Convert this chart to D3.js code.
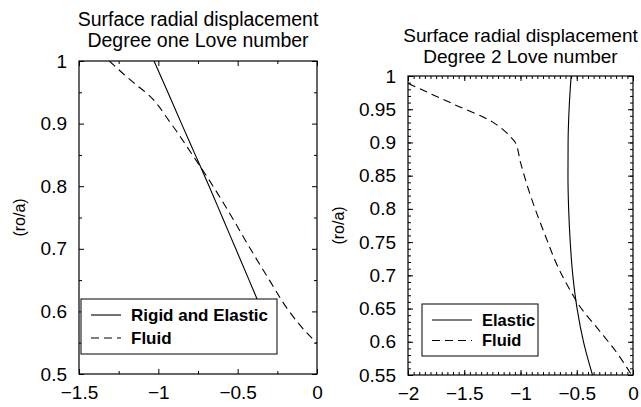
<!DOCTYPE html>
<html><head><meta charset="utf-8">
<script src="https://cdn.jsdelivr.net/npm/d3@7"></script>
<style>body{margin:0;background:#fff}svg{display:block}text{font-family:"Liberation Sans",Arial,Helvetica,sans-serif}</style>
</head><body>
<svg id="c" width="641" height="407"></svg>
<script>
// ---- data ----
const leftTitle = ["Surface radial displacement", "Degree one Love number"];
const rightTitle = ["Surface radial displacement", "Degree 2 Love number"];
const yLabel = "(ro/a)";

const leftXTicks = [-1.5, -1, -0.5, 0];
const leftXMinor = [-1.25, -0.75, -0.25];
const leftYTicks = [0.5, 0.6, 0.7, 0.8, 0.9, 1];
const leftYMinor = [0.55, 0.65, 0.75, 0.85, 0.95];
const rightXTicks = [-2, -1.5, -1, -0.5, 0];
const rightYTicks = [0.55, 0.6, 0.65, 0.7, 0.75, 0.8, 0.85, 0.9, 0.95, 1];

// left panel: Rigid and Elastic (solid)
const leftSolidX = [-1.027, -0.94, -0.854, -0.767, -0.68, -0.596, -0.512, -0.428, -0.345];
const leftSolidY = [1.0, 0.95, 0.9, 0.85, 0.8, 0.75, 0.7, 0.65, 0.6];
// left panel: Fluid (dashed)
const leftDashX = [-1.309, -1.2, -1.13, -1.08, -0.92, -0.785, -0.655, -0.535, -0.42, -0.3, -0.175, -0.08, 0.0];
const leftDashY = [1.0, 0.975, 0.96, 0.95, 0.9, 0.85, 0.8, 0.75, 0.7, 0.65, 0.6, 0.57, 0.549];
// right panel: Elastic (solid)
const rightSolidX = [-0.55, -0.568, -0.577, -0.578, -0.572, -0.558, -0.535, -0.497, -0.44, -0.36];
const rightSolidY = [1.0, 0.95, 0.9, 0.85, 0.8, 0.75, 0.7, 0.65, 0.6, 0.55];
// right panel: Fluid (dashed)
const rightDashX = [-2.0, -1.6, -1.25, -1.14, -1.08, -1.05, -1.0, -0.94, -0.87, -0.78, -0.66, -0.56, -0.48, -0.3, -0.15, -0.02];
const rightDashY = [0.989, 0.958, 0.931, 0.917, 0.907, 0.901, 0.87, 0.835, 0.8, 0.76, 0.71, 0.678, 0.655, 0.617, 0.585, 0.552];

const leftLegend = ["Rigid and Elastic", "Fluid"];
const rightLegend = ["Elastic", "Fluid"];

// ---- drawing ----
const svg = d3.select("#c");
svg.append("rect").attr("width", 641).attr("height", 407).attr("fill", "#fff");

function zip(xs, ys) { return xs.map((v, i) => [v, ys[i]]); }

function panel(o) {
  const x = d3.scaleLinear().domain(o.xd).range([o.x0, o.x1]);
  const y = d3.scaleLinear().domain(o.yd).range([o.y1, o.y0]);
  const g = svg.append("g");
  const id = "clip" + o.key;
  svg.append("clipPath").attr("id", id).append("rect")
    .attr("x", o.x0).attr("y", o.y0).attr("width", o.x1 - o.x0).attr("height", o.y1 - o.y0);

  const fs = o.tickFont;
  const ax = (gen, tr, ticks, size, labels) => {
    const a = g.append("g").attr("transform", tr)
      .call(gen.tickValues(ticks).tickSizeInner(size).tickSizeOuter(0).tickPadding(o.pad)
        .tickFormat(labels ? d3.format("") : ""));
    a.select(".domain").remove();
    a.selectAll("line").attr("stroke", "#000").attr("stroke-width", 1);
    a.selectAll("text").attr("font-size", fs).attr("fill", "#000").attr("font-family", '"Liberation Sans",Arial,sans-serif');
    return a;
  };
  ax(d3.axisBottom(x), `translate(0,${o.y1})`, o.xt, -5, true);
  ax(d3.axisTop(x), `translate(0,${o.y0})`, o.xt, -5, false);
  ax(d3.axisLeft(y), `translate(${o.x0},0)`, o.yt, -5, true);
  ax(d3.axisRight(y), `translate(${o.x1},0)`, o.yt, -5, false);
  ax(d3.axisBottom(x), `translate(0,${o.y1})`, o.xm, -3, false);
  ax(d3.axisTop(x), `translate(0,${o.y0})`, o.xm, -3, false);
  ax(d3.axisLeft(y), `translate(${o.x0},0)`, o.ym, -3, false);
  ax(d3.axisRight(y), `translate(${o.x1},0)`, o.ym, -3, false);

  const line = d3.line().x(d => x(d[0])).y(d => y(d[1])).curve(d3.curveMonotoneY);
  const cg = g.append("g").attr("clip-path", `url(#${id})`);
  cg.append("path").attr("d", line(o.solid)).attr("fill", "none").attr("stroke", "#000").attr("stroke-width", 1.1);
  cg.append("path").attr("d", line(o.dash)).attr("fill", "none").attr("stroke", "#000").attr("stroke-width", 1.1).attr("stroke-dasharray", "8,5");

  const L = o.leg;
  g.append("rect").attr("x", L.x).attr("y", L.y).attr("width", L.w).attr("height", L.h)
    .attr("fill", "#fff").attr("stroke", "#000").attr("stroke-width", 1);
  o.legText.forEach((t, i) => {
    const ly = L.y + L.r0 + i * L.dr;
    g.append("line").attr("x1", L.x + L.l0).attr("x2", L.x + L.l1).attr("y1", ly).attr("y2", ly)
      .attr("stroke", "#000").attr("stroke-width", 1.1).attr("stroke-dasharray", i ? "8,5" : null);
    g.append("text").attr("x", L.x + L.tx).attr("y", ly).attr("dy", "0.36em")
      .attr("font-size", L.fs).attr("font-weight", "bold").text(t);
  });

  g.append("rect").attr("x", o.x0).attr("y", o.y0).attr("width", o.x1 - o.x0).attr("height", o.y1 - o.y0)
    .attr("fill", "none").attr("stroke", "#000").attr("stroke-width", 1.2);

  const cx = (o.x0 + o.x1) / 2;
  o.title.forEach((t, i) => {
    g.append("text").attr("x", cx).attr("y", o.tY + i * o.tDy).attr("text-anchor", "middle")
      .attr("font-size", o.tFont).text(t);
  });
  g.append("text").attr("transform", `translate(${o.ylX},${(o.y0 + o.y1) / 2}) rotate(-90)`)
    .attr("text-anchor", "middle").attr("font-size", 16).text(yLabel);
}

panel({
  key: "L", xd: [-1.5, 0], yd: [0.5, 1], x0: 79, x1: 317, y0: 61, y1: 374,
  xt: leftXTicks, xm: leftXMinor, yt: leftYTicks, ym: leftYMinor,
  tickFont: 19, pad: 12,
  solid: zip(leftSolidX, leftSolidY), dash: zip(leftDashX, leftDashY),
  leg: { x: 81, y: 299, w: 196, h: 55, r0: 16, dr: 23, l0: 10, l1: 40, tx: 50, fs: 17 },
  legText: leftLegend,
  title: leftTitle, tY: 26, tDy: 21, tFont: 19.5, ylX: 25
});
panel({
  key: "R", xd: [-2, 0], yd: [0.55, 1], x0: 408, x1: 633, y0: 76, y1: 375,
  xt: rightXTicks, xm: d3.scaleLinear().domain([-2, 0]).ticks(40), yt: rightYTicks,
  ym: d3.scaleLinear().domain([0.55, 1]).ticks(45),
  tickFont: 19, pad: 12,
  solid: zip(rightSolidX, rightSolidY), dash: zip(rightDashX, rightDashY),
  leg: { x: 422, y: 304, w: 116, h: 52, r0: 16, dr: 20.5, l0: 10, l1: 50, tx: 60, fs: 16.5 },
  legText: rightLegend,
  title: rightTitle, tY: 42, tDy: 21, tFont: 19, ylX: 344
});
</script>
</body></html>
